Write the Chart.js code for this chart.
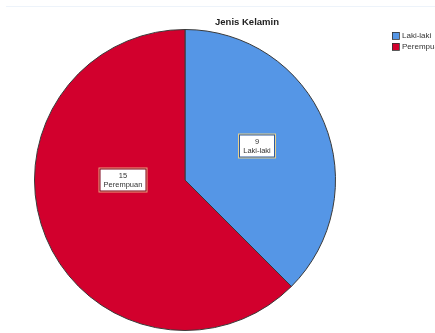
<!DOCTYPE html>
<html>
<head>
<meta charset="utf-8">
<script src="https://cdn.jsdelivr.net/npm/chart.js@4/dist/chart.umd.min.js"></script>
<style>
  html, body { margin: 0; padding: 0; background: #fff; }
  #wrap { width: 435px; height: 333px; position: relative; }
</style>
</head>
<body>
<div id="wrap"><canvas id="chart"></canvas></div>
<script>
var judul = "Jenis Kelamin";
var kategori = ["Laki-laki", "Perempuan"];
var jumlah = [9, 15];
var warna = ["#5596e6", "#d2002d"];
var warnaTepiLabel = ["#2d5aa0", "#7a0018"];
var warnaLuarLabel = ["#e6d08c", "#f0a080"];
// letak label di dalam irisan: bagian sudut irisan dan bagian jari-jari
var letakLabel = [
  { sudut: 0.48, jari: 0.53 },
  { sudut: 0.6, jari: 0.41 },
];

// garis tipis di atas, judul, legenda dan label isi
var hiasan = {
  id: "hiasan",
  beforeDraw: function (chart) {
    var ctx = chart.ctx;
    ctx.save();
    ctx.strokeStyle = "#edf3fa";
    ctx.lineWidth = 1;
    ctx.beginPath();
    ctx.moveTo(6, 6.5);
    ctx.lineTo(435, 6.5);
    ctx.stroke();
    ctx.restore();
  },
  afterDraw: function (chart) {
    var ctx = chart.ctx;
    ctx.save();

    ctx.fillStyle = "#222";
    ctx.font = "bold 9.5px 'Liberation Sans', Arial, sans-serif";
    ctx.textAlign = "center";
    ctx.textBaseline = "middle";
    ctx.fillText(judul, 247, 22);

    ctx.font = "8px 'Liberation Sans', Arial, sans-serif";
    ctx.textAlign = "left";
    kategori.forEach(function (nama, i) {
      var y = 32 + i * 11;
      ctx.fillStyle = warna[i];
      ctx.fillRect(392, y, 7, 7);
      ctx.strokeStyle = "#333";
      ctx.lineWidth = 0.8;
      ctx.strokeRect(392.5, y + 0.5, 7, 7);
      ctx.fillStyle = "#333";
      ctx.fillText(nama, 402, y + 4);
    });

    var meta = chart.getDatasetMeta(0);
    ctx.font = "7.5px 'Liberation Sans', Arial, sans-serif";
    ctx.textAlign = "center";
    meta.data.forEach(function (arc, i) {
      var p = arc.getProps(["x", "y", "startAngle", "endAngle", "outerRadius"], true);
      var t = p.startAngle + (p.endAngle - p.startAngle) * letakLabel[i].sudut;
      var d = p.outerRadius * letakLabel[i].jari;
      var lx = Math.round(p.x + d * Math.cos(t));
      var ly = Math.round(p.y + d * Math.sin(t));

      var teks = kategori[i];
      var w = Math.ceil(ctx.measureText(teks).width) + 6;
      var h = 21;
      var x0 = lx - w / 2;
      var y0 = ly - h / 2;
      ctx.fillStyle = warnaLuarLabel[i];
      ctx.fillRect(x0 - 2, y0 - 2, w + 4, h + 4);
      ctx.fillStyle = warnaTepiLabel[i];
      ctx.fillRect(x0 - 1, y0 - 1, w + 2, h + 2);
      ctx.fillStyle = "#fff";
      ctx.fillRect(x0, y0, w, h);
      ctx.fillStyle = "#333";
      ctx.fillText(String(jumlah[i]), lx, ly - 4.5);
      ctx.fillText(teks, lx, ly + 4.5);
    });
    ctx.restore();
  }
};

new Chart(document.getElementById("chart"), {
  type: "pie",
  data: {
    labels: kategori,
    datasets: [
      {
        data: jumlah,
        backgroundColor: warna,
        borderColor: "#3a3a3a",
        borderWidth: 1,
        hoverOffset: 0,
      },
    ],
  },
  options: {
    responsive: true,
    maintainAspectRatio: false,
    animation: false,
    layout: { padding: { left: 34, right: 99, top: 29, bottom: 2 } },
    plugins: {
      legend: { display: false },
      tooltip: { enabled: false },
      title: { display: false },
    },
  },
  plugins: [hiasan],
});
</script>
</body>
</html>
